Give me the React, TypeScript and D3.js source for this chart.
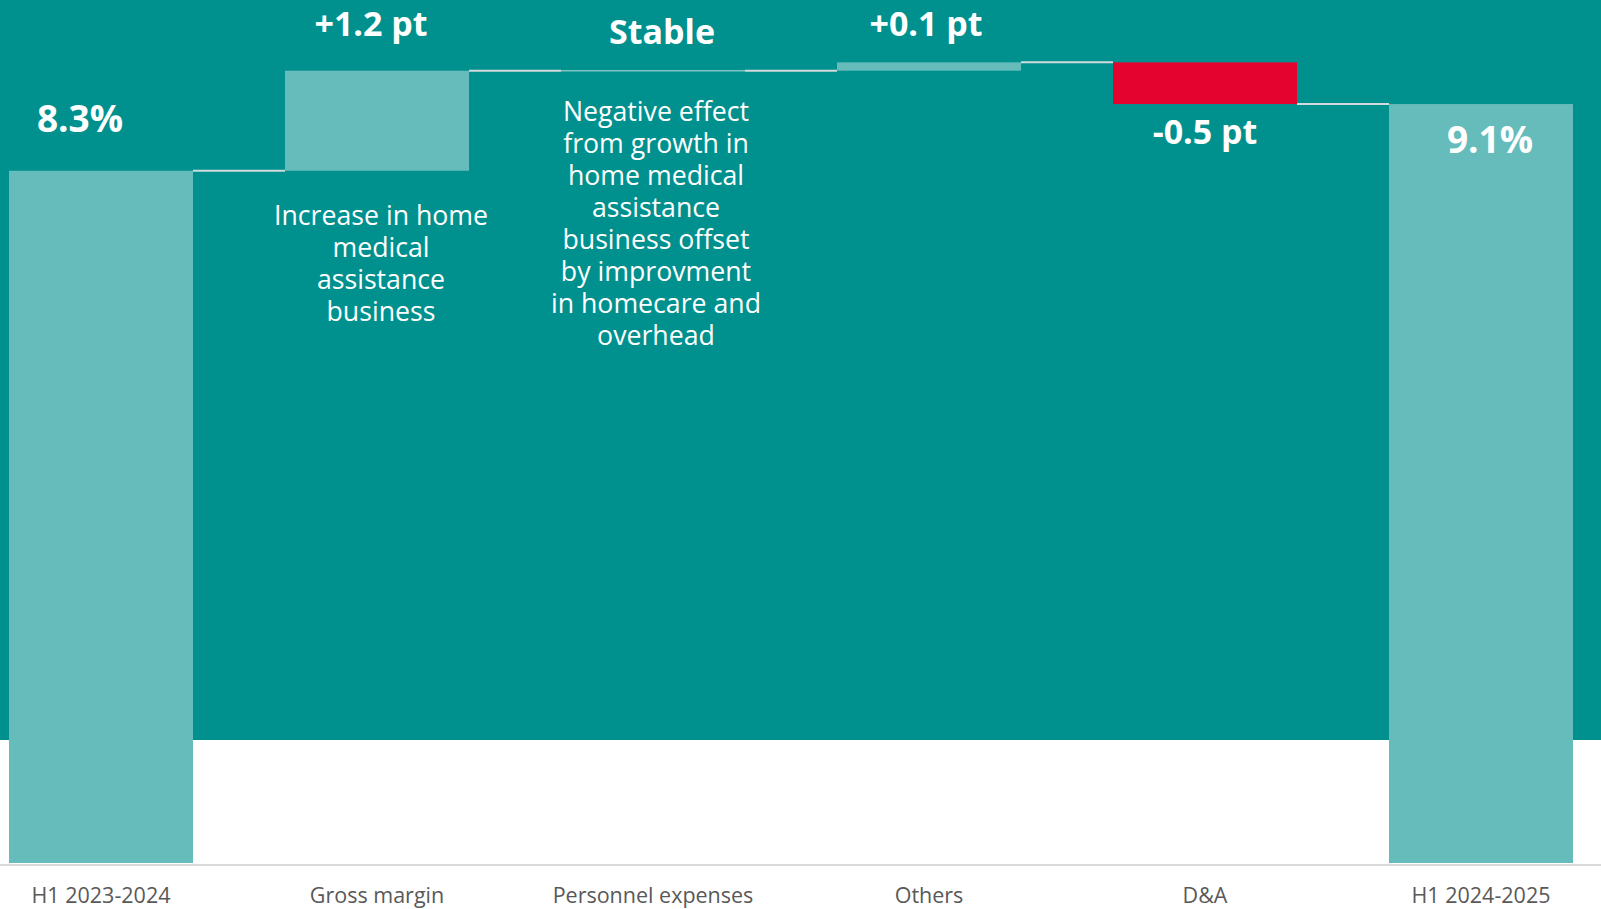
import React from "react";
import * as d3 from "d3";

const categories = ["H1 2023-2024", "Gross margin", "Personnel expenses", "Others", "D&A", "H1 2024-2025"];
const kinds = ["total", "delta", "delta", "delta", "delta", "total"];
const values = [8.3, 1.2, 0.0, 0.1, -0.5, 9.1];
const valueLabels = ["8.3%", "+1.2 pt", "Stable", "+0.1 pt", "-0.5 pt", "9.1%"];
const notes: string[][] = [
  [],
  ["Increase in home", "medical", "assistance", "business"],
  ["Negative effect", "from growth in", "home medical", "assistance", "business offset", "by improvment", "in homecare and", "overhead"],
  [],
  [],
  [],
];

const W = 1601;
const H = 909;
const BG = "#00918F";
const LIGHT = "#66BBBB";
const RED = "#E4022E";
const FONT = "'Open Sans', 'Noto Sans', sans-serif";

export default function App() {
  const x = d3.scaleBand<string>().domain(categories).range([9, 1573]).paddingInner(1 / 3).paddingOuter(0);
  const y = d3.scaleLinear().domain([0, 10]).range([863, 29]);
  const bw = x.bandwidth();

  // compute waterfall segments
  let run = 0;
  const segs = categories.map((c, i) => {
    let start: number, end: number;
    if (kinds[i] === "total") {
      start = 0;
      end = values[i];
      run = values[i];
    } else {
      start = run;
      end = run + values[i];
      run = end;
    }
    return { c, i, start, end, v: values[i] };
  });

  // label placement offsets relative to the bar
  const labelPos = (s: typeof segs[number]) => {
    const cx = x(s.c)! + bw / 2;
    switch (s.i) {
      case 0:
        return { x: cx - 21, y: y(s.end) - 39, size: 37 };
      case 1:
        return { x: cx - 6, y: y(s.end) - 35, size: 34 };
      case 2:
        return { x: cx + 9, y: y(s.end) - 27, size: 34 };
      case 3:
        return { x: cx - 3, y: y(s.end) - 26, size: 34 };
      case 4:
        return { x: cx, y: y(s.end) + 40, size: 34 };
      default:
        return { x: cx + 9, y: y(s.end) + 49, size: 37 };
    }
  };

  return (
    <svg width={W} height={H} style={{ position: "absolute", left: 0, top: 0, background: "#fff" }}>
      <rect x={0} y={0} width={W} height={740} fill={BG} />
      <line x1={0} x2={W} y1={865} y2={865} stroke="#D9D9D9" strokeWidth={2} />
      {segs.map((s) => {
        const top = y(Math.max(s.start, s.end));
        const bot = y(Math.min(s.start, s.end));
        const h = bot - top;
        const fill = s.v < 0 ? RED : LIGHT;
        if (h < 0.5) {
          return (
            <line key={s.c} x1={x(s.c)!} x2={x(s.c)! + bw} y1={top} y2={top} stroke="#7FC5C4" strokeWidth={1.5} />
          );
        }
        return <rect key={s.c} x={x(s.c)!} y={top} width={bw} height={h} fill={fill} />;
      })}
      {segs.slice(0, -1).map((s, k) => {
        const next = segs[k + 1];
        return (
          <line
            key={"c" + k}
            x1={x(s.c)! + bw}
            x2={x(next.c)!}
            y1={y(s.end)}
            y2={y(s.end)}
            stroke="#D4D9D9"
            strokeWidth={2}
          />
        );
      })}
      {segs.map((s) => {
        const p = labelPos(s);
        return (
          <text key={"l" + s.c} x={p.x} y={p.y} textAnchor="middle" fill="#fff" fontFamily={FONT} fontWeight={700} fontSize={p.size}>
            {valueLabels[s.i]}
          </text>
        );
      })}
      {segs.map((s) =>
        notes[s.i].length ? (
          <text key={"n" + s.c} textAnchor="middle" fill="#fff" fontFamily={FONT} fontSize={26.7}>
            {notes[s.i].map((ln, j) => (
              <tspan key={j} x={x(s.c)! + bw / 2 + (s.i === 1 ? 4 : 3)} y={(s.i === 1 ? 225 : 121) + j * 32}>
                {ln}
              </tspan>
            ))}
          </text>
        ) : null
      )}
      {categories.map((c) => (
        <text key={"a" + c} x={x(c)! + bw / 2} y={903} textAnchor="middle" fill="#595959" fontFamily={FONT} fontSize={21.5}>
          {c}
        </text>
      ))}
    </svg>
  );
}
